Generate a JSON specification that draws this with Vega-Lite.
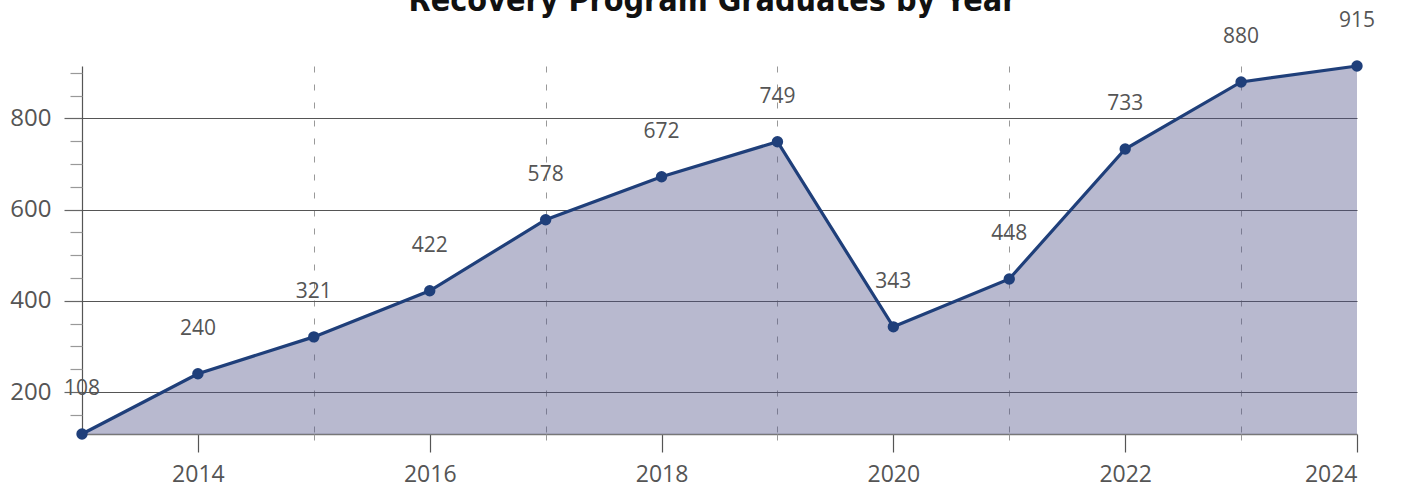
{
  "$schema": "https://vega.github.io/schema/vega-lite/v6.json",
  "autosize": {"type": "none"},
  "width": 1275,
  "height": 368,
  "padding": {"left": 82, "top": 66, "right": 44, "bottom": 53},
  "title": {
    "text": "Recovery Program Graduates by Year",
    "font": "DejaVu Sans Condensed",
    "fontSize": 32,
    "fontWeight": "bold",
    "color": "#111111",
    "anchor": "middle",
    "frame": "group",
    "baseline": "alphabetic",
    "offset": -11,
    "dx": -7,
    "dy": 22
  },
  "config": {
    "view": {"stroke": null},
    "font": "Open Sans"
  },
  "data": {
    "values": [
      {"year": 2013, "graduates": 108},
      {"year": 2014, "graduates": 240},
      {"year": 2015, "graduates": 321},
      {"year": 2016, "graduates": 422},
      {"year": 2017, "graduates": 578},
      {"year": 2018, "graduates": 672},
      {"year": 2019, "graduates": 749},
      {"year": 2020, "graduates": 343},
      {"year": 2021, "graduates": 448},
      {"year": 2022, "graduates": 733},
      {"year": 2023, "graduates": 880},
      {"year": 2024, "graduates": 915}
    ]
  },
  "resolve": {"axis": {"x": "independent", "y": "independent"}},
  "layer": [
    {
      "mark": {"type": "area", "color": "#4e5087", "opacity": 0.4, "clip": true},
      "encoding": {
        "x": {
          "field": "year", "type": "quantitative",
          "scale": {"domain": [2013, 2024], "nice": false, "zero": false},
          "axis": {
            "orient": "bottom", "title": null, "values": [2014, 2016, 2018, 2020, 2022, 2024],
            "format": "d", "grid": false, "tickSize": 18, "tickColor": "#555555", "tickWidth": 1.2,
            "domainColor": "#777777", "domainWidth": 1.5,
            "labelFont": "Open Sans", "labelFontSize": 23, "labelColor": "#555555", "labelPadding": 11
          }
        },
        "y": {
          "field": "graduates", "type": "quantitative",
          "scale": {"domain": [108, 915], "nice": false, "zero": false},
          "axis": {
            "orient": "left", "title": null, "values": [200, 400, 600, 800],
            "grid": true, "gridColor": "#555555", "gridWidth": 1,
            "tickSize": 18, "tickColor": "#666666", "tickWidth": 1.2,
            "domainColor": "#555555", "domainWidth": 1.2,
            "labelFont": "Open Sans", "labelFontSize": 24, "labelColor": "#555555", "labelPadding": 13
          }
        }
      }
    },
    {
      "mark": {"type": "point", "opacity": 0},
      "encoding": {
        "x": {
          "field": "year", "type": "quantitative",
          "axis": {
            "orient": "bottom", "title": null, "values": [2015, 2017, 2019, 2021, 2023],
            "labels": false, "domain": false, "grid": true,
            "gridColor": "#999999", "gridDash": [6, 12], "gridWidth": 1,
            "tickSize": 13, "tickColor": "#999999", "tickDash": [6, 12]
          }
        },
        "y": {
          "field": "graduates", "type": "quantitative",
          "axis": {
            "orient": "left", "title": null,
            "values": [150, 250, 300, 350, 450, 500, 550, 650, 700, 750, 850, 900],
            "labels": false, "domain": false, "grid": false,
            "tickSize": 12, "tickColor": "#999999", "tickWidth": 1.2
          }
        }
      }
    },
    {
      "mark": {"type": "line", "color": "#1f3f7a", "strokeWidth": 3.2},
      "encoding": {
        "x": {"field": "year", "type": "quantitative", "axis": null},
        "y": {"field": "graduates", "type": "quantitative", "axis": null}
      }
    },
    {
      "mark": {"type": "point", "filled": true, "color": "#1f3f7a", "opacity": 1, "size": 130},
      "encoding": {
        "x": {"field": "year", "type": "quantitative", "axis": null},
        "y": {"field": "graduates", "type": "quantitative", "axis": null}
      }
    },
    {
      "mark": {"type": "text", "font": "Open Sans", "fontSize": 21, "color": "#555555", "baseline": "alphabetic", "dy": -39},
      "encoding": {
        "x": {"field": "year", "type": "quantitative", "axis": null},
        "y": {"field": "graduates", "type": "quantitative", "axis": null},
        "text": {"field": "graduates", "type": "quantitative"}
      }
    }
  ]
}
